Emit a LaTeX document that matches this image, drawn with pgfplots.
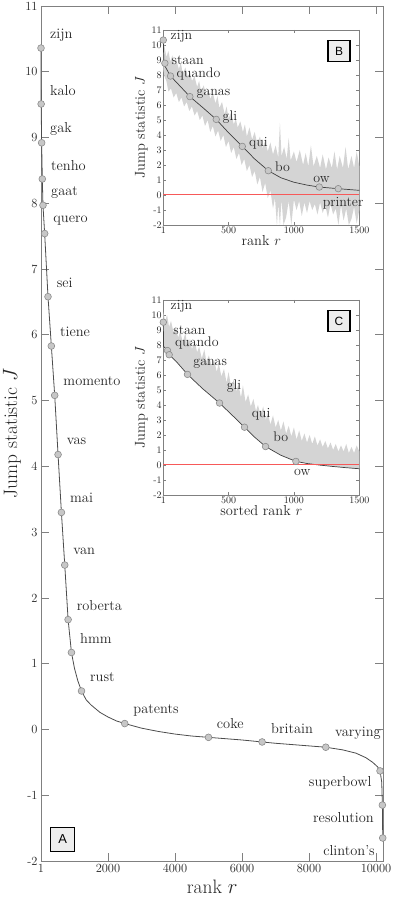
\documentclass[border=0pt]{standalone}
\usepackage{pgfplots}
\pgfplotsset{compat=1.18}
\usepackage{fontspec}
\newfontfamily\boxfont{Liberation Sans}
\definecolor{frame}{gray}{0.5}
\definecolor{band}{gray}{0.83}
\definecolor{mk}{gray}{0.78}
\definecolor{mkedge}{gray}{0.55}
\definecolor{zeroline}{rgb}{0.97,0.35,0.35}
\newcommand{\wl}{\fontsize{14.5}{15}\selectfont}
\newcommand{\wli}{\fontsize{14}{14.5}\selectfont}
\begin{document}
\begin{tikzpicture}
\useasboundingbox (0,0) rectangle (395bp,899bp);
% ---------------- main axis A ----------------
\begin{axis}[
  at={(41bp,38bp)}, anchor=south west,
  width=342.4bp, height=855bp, scale only axis,
  xmin=1, xmax=10220, ymin=-2, ymax=11,
  scaled x ticks=false,
  xtick={1,2000,4000,6000,8000,10000},
  xticklabels={1,2000,4000,6000,8000,10000},
  ytick={-2,-1,0,1,2,3,4,5,6,7,8,9,10,11},
  yticklabels={-2,-1,0,1,2,3,4,5,6,7,8,9,10,11},
  tick align=inside, tick pos=both, major tick length=8bp,
  axis line style={frame, line width=0.9bp},
  tick style={frame, line width=0.8bp},
  ticklabel style={font=\fontsize{12.5}{13}\selectfont, text=black!85},
  xlabel={rank $r$}, ylabel={Jump statistic $J$},
  label style={font=\fontsize{19.5}{20}\selectfont, text=black!85},
  ylabel style={yshift=-2.5bp},
  clip=false,
]
\addplot[black!70, line width=0.8bp] coordinates {
(1,10.36)(5,9.51)(20,8.92)(40,8.37)(60,7.97)(110,7.54)(210,6.58)(310,5.83)
(410,5.08)(510,4.18)(610,3.30)(710,2.50)(810,1.67)(910,1.17)(1000,0.93)
(1100,0.74)(1210,0.585)(1350,0.45)(1500,0.37)(1760,0.26)(2000,0.19)
(2250,0.13)(2500,0.09)(3000,0.02)(3500,-0.03)(4000,-0.07)(4500,-0.10)
(5000,-0.12)(5500,-0.14)(6000,-0.16)(6600,-0.19)(7000,-0.21)(7500,-0.23)
(8000,-0.25)(8500,-0.27)(9000,-0.31)(9400,-0.36)(9700,-0.43)(9900,-0.50)
(10050,-0.57)(10120,-0.63)(10170,-0.80)(10190,-1.15)(10200,-1.65)};
\addplot[only marks, mark=*, mark size=3.4bp, mark options={fill=mk, draw=mkedge, line width=0.6bp}] coordinates {
(1,10.36)(5,9.51)(20,8.92)(40,8.37)(60,7.97)(110,7.54)(210,6.58)(310,5.83)
(410,5.08)(510,4.18)(610,3.30)(710,2.50)(810,1.67)(910,1.17)(1210,0.585)
(2500,0.09)(5000,-0.12)(6600,-0.19)(8500,-0.27)(10120,-0.63)(10190,-1.15)(10200,-1.65)};
\begin{scope}[every node/.style={inner sep=0, font=\wl, text=black!85}]
\node[anchor=west] at (axis cs:269,10.56) {zijn};
\node[anchor=west] at (axis cs:269,9.71) {kalo};
\node[anchor=west] at (axis cs:269,9.13) {gak};
\node[anchor=west] at (axis cs:299,8.57) {tenho};
\node[anchor=west] at (axis cs:299,8.17) {gaat};
\node[anchor=west] at (axis cs:367,7.74) {quero};
\node[anchor=west] at (axis cs:469,6.79) {sei};
\node[anchor=west] at (axis cs:567,6.04) {tiene};
\node[anchor=west] at (axis cs:666,5.29) {momento};
\node[anchor=west] at (axis cs:767,4.38) {vas};
\node[anchor=west] at (axis cs:866,3.52) {mai};
\node[anchor=west] at (axis cs:964,2.71) {van};
\node[anchor=west] at (axis cs:1066,1.88) {roberta};
\node[anchor=west] at (axis cs:1164,1.38) {hmm};
\node[anchor=west] at (axis cs:1463,0.79) {rust};
\node[anchor=west] at (axis cs:2755,0.29) {patents};
\node[anchor=west] at (axis cs:5245,0.09) {coke};
\node[anchor=west] at (axis cs:6866,0.02) {britain};
\node[anchor=west] at (axis cs:8776,-0.06) {varying};
\node[anchor=east] at (axis cs:9871,-0.81) {superbowl};
\node[anchor=east] at (axis cs:9940,-1.34) {resolution};
\node[anchor=east] at (axis cs:9970,-1.84) {clinton's};
\end{scope}
\node[draw=black, line width=1.3bp, fill=black!7, minimum width=24bp, minimum height=24bp, inner sep=0,
  font=\boxfont\fontsize{13}{13}\selectfont, anchor=south west, xshift=9bp, yshift=9bp] at (rel axis cs:0,0) {A};
\end{axis}
% ---------------- inset B ----------------
\begin{axis}[
  at={(163.3bp,674bp)}, anchor=south west,
  width=196bp, height=195bp, scale only axis,
  xmin=1, xmax=1500, ymin=-2, ymax=11,
  xtick={1,500,1000,1500}, xticklabels={1,500,1000,1500},
  ytick={-2,-1,0,1,2,3,4,5,6,7,8,9,10,11},
  yticklabels={-2,-1,0,1,2,3,4,5,6,7,8,9,10,11},
  tick align=inside, tick pos=both, major tick length=3bp,
  axis line style={frame, line width=0.8bp},
  tick style={frame, line width=0.6bp},
  ticklabel style={font=\fontsize{10}{10}\selectfont, text=black!85, inner sep=1.5bp},
  xlabel={rank $r$}, ylabel={Jump statistic $J$},
  label style={font=\fontsize{14.5}{15}\selectfont, text=black!85},
  xlabel style={yshift=3bp}, ylabel style={yshift=-1bp},
  axis background/.style={fill=white},
  clip=false,
]
\addplot[fill=band, draw=none] coordinates {
(1,10.3)(10,9.9)(25,9.2)(40,9.6)(55,8.9)(70,9.3)(85,8.7)(100,9.0)(120,8.4)(135,8.8)
(150,8.1)(170,8.5)(190,7.8)(205,8.2)(220,7.6)(240,7.9)(260,7.2)(275,7.6)(290,6.9)
(310,7.3)(330,6.6)(345,7.0)(360,6.4)(380,6.8)(400,6.1)(415,6.6)(430,5.8)(450,6.2)
(470,5.4)(485,5.9)(500,5.1)(520,5.5)(540,4.7)(555,5.1)(570,4.5)(590,4.9)(610,4.2)
(625,4.7)(640,3.9)(660,4.5)(680,3.7)(700,4.2)(720,3.4)(740,3.9)(760,3.1)(780,3.6)
(800,2.9)(820,3.5)(840,2.7)(860,3.3)(880,2.5)(893,4.8)(905,2.6)(925,3.2)(945,2.4)
(960,3.8)(975,2.3)(1000,2.9)(1020,2.2)(1045,3.0)(1070,2.0)(1090,2.8)(1110,1.9)
(1130,3.3)(1150,1.9)(1175,2.6)(1200,1.8)(1220,2.7)(1245,1.7)(1265,2.5)(1290,1.8)
(1310,2.9)(1330,1.7)(1350,2.6)(1375,1.8)(1395,3.2)(1415,1.7)(1440,2.6)(1460,1.8)
(1480,2.9)(1500,1.9)
(1500,-1.0)(1480,-1.9)(1460,-0.8)(1440,-1.6)(1420,-2.0)(1400,-0.9)(1380,-1.7)
(1360,-0.7)(1340,-2.0)(1320,-0.9)(1300,-1.3)(1280,-0.6)(1260,-1.5)(1240,-0.7)
(1220,-1.2)(1200,-0.5)(1180,-1.3)(1160,-0.6)(1140,-1.0)(1120,-0.4)(1100,-1.2)
(1080,-0.5)(1060,-1.4)(1040,-0.4)(1020,-1.0)(1000,-0.3)(980,-2.0)(960,-0.4)
(940,-1.5)(920,-2.0)(905,-0.3)(893,-2.0)(880,-0.6)(870,-2.0)(855,-0.2)(840,-0.9)
(820,0.3)(800,-0.2)(780,0.8)(760,0.2)(740,1.2)(720,0.7)(700,1.6)(680,1.2)(660,2.0)
(640,1.6)(620,2.4)(600,2.0)(580,2.8)(560,2.4)(540,3.2)(520,2.8)(500,3.6)(480,3.2)
(460,4.0)(440,3.6)(420,4.3)(400,3.9)(380,4.6)(360,4.2)(340,5.0)(320,4.6)(300,5.3)
(280,5.0)(260,5.6)(240,5.3)(220,5.9)(200,5.6)(180,6.2)(160,5.9)(140,6.5)(120,6.2)
(100,6.8)(80,6.5)(60,7.1)(40,6.9)(25,7.6)(10,7.9)(1,8.4)} -- cycle;
\addplot[black!75, line width=0.7bp] coordinates {
(1,10.33)(5,8.9)(13,8.6)(56,7.93)(130,7.25)(204,6.56)(300,5.85)(406,5.04)
(500,4.15)(605,3.24)(700,2.4)(804,1.62)(900,1.15)(1000,0.85)(1100,0.66)
(1194,0.53)(1339,0.42)(1500,0.31)};
\addplot[color=zeroline, line width=1bp] coordinates {(1,0)(1500,0)};
\addplot[only marks, mark=*, mark size=3.3bp, mark options={fill=mk, draw=mkedge, line width=0.6bp}] coordinates {
(1,10.33)(13,8.78)(56,7.93)(204,6.56)(406,5.04)(605,3.24)(804,1.62)(1194,0.53)(1339,0.42)};
\begin{scope}[every node/.style={inner sep=0, font=\wli, text=black!85, anchor=west}]
\node at (axis cs:56,10.56) {zijn};
\node at (axis cs:64,9.0) {staan};
\node at (axis cs:102,8.09) {quando};
\node at (axis cs:255,6.73) {ganas};
\node at (axis cs:454,5.22) {gli};
\node at (axis cs:656,3.44) {qui};
\node at (axis cs:855,1.89) {bo};
\node at (axis cs:1148,1.04) {ow};
\node at (axis cs:1219,-0.56) {printer};
\end{scope}
\node[draw=black, line width=1.3bp, fill=black!7, minimum width=22bp, minimum height=21bp, inner sep=0,
  font=\boxfont\fontsize{12}{12}\selectfont, anchor=north east, xshift=-8.6bp, yshift=-10bp] at (rel axis cs:1,1) {B};
\end{axis}
% ---------------- inset C ----------------
\begin{axis}[
  at={(163.3bp,404bp)}, anchor=south west,
  width=196bp, height=195bp, scale only axis,
  xmin=1, xmax=1500, ymin=-2, ymax=11,
  xtick={1,500,1000,1500}, xticklabels={1,500,1000,1500},
  ytick={-2,-1,0,1,2,3,4,5,6,7,8,9,10,11},
  yticklabels={-2,-1,0,1,2,3,4,5,6,7,8,9,10,11},
  tick align=inside, tick pos=both, major tick length=3bp,
  axis line style={frame, line width=0.8bp},
  tick style={frame, line width=0.6bp},
  ticklabel style={font=\fontsize{10}{10}\selectfont, text=black!85, inner sep=1.5bp},
  xlabel={sorted rank $r$}, ylabel={Jump statistic $J$},
  label style={font=\fontsize{14.5}{15}\selectfont, text=black!85},
  xlabel style={yshift=3bp}, ylabel style={yshift=-1bp},
  axis background/.style={fill=white},
  clip=false,
]
\addplot[fill=band, draw=none] coordinates {
(1,10.2)(15,9.6)(30,10.0)(45,9.2)(60,9.6)(80,8.8)(95,9.2)(115,8.5)(130,8.9)(150,8.2)
(170,8.8)(185,7.9)(205,8.4)(220,7.7)(240,8.3)(260,7.5)(275,7.9)(295,7.1)(315,7.7)
(330,6.9)(350,7.3)(370,6.6)(390,7.0)(410,6.2)(425,6.8)(445,5.9)(465,6.4)(485,5.5)
(500,6.2)(520,5.2)(540,5.7)(560,4.9)(575,5.4)(595,4.5)(610,5.3)(630,4.2)(650,4.7)
(670,3.9)(690,4.4)(710,3.6)(725,4.0)(745,3.3)(765,3.9)(785,3.0)(800,3.5)(820,2.7)
(840,3.3)(860,2.5)(880,3.0)(900,2.3)(920,2.9)(940,2.1)(960,2.6)(980,1.9)(1000,2.5)
(1020,1.7)(1040,2.3)(1060,1.6)(1080,2.1)(1100,1.5)(1120,2.0)(1140,1.4)(1160,1.9)
(1180,1.3)(1200,1.7)(1220,1.2)(1240,1.6)(1260,1.1)(1280,1.5)(1300,1.0)(1320,1.4)
(1340,0.9)(1360,1.3)(1380,0.9)(1400,1.4)(1420,0.8)(1440,1.2)(1460,0.8)(1480,1.3)
(1500,0.9)
(1500,-0.25)(1400,-0.18)(1300,-0.1)(1190,0.0)(1100,0.1)(1015,0.24)(900,0.65)
(783,1.23)(700,1.85)(622,2.52)(530,3.3)(431,4.13)(300,5.1)(186,6.04)(100,6.9)
(46,7.35)(33,7.63)(3,7.9)(1,8.3)} -- cycle;
\addplot[black!75, line width=0.7bp] coordinates {
(1,9.52)(3,7.9)(33,7.63)(46,7.35)(100,6.9)(186,6.04)(300,5.1)(431,4.13)
(530,3.3)(622,2.52)(700,1.85)(783,1.23)(900,0.65)(1015,0.24)(1100,0.1)
(1190,0.0)(1300,-0.1)(1400,-0.18)(1500,-0.25)};
\addplot[color=zeroline, line width=1bp] coordinates {(1,0)(1500,0)};
\addplot[only marks, mark=*, mark size=3.3bp, mark options={fill=mk, draw=mkedge, line width=0.6bp}] coordinates {
(1,9.52)(33,7.63)(46,7.35)(186,6.04)(431,4.13)(622,2.52)(783,1.23)(1015,0.24)};
\begin{scope}[every node/.style={inner sep=0, font=\wli, text=black!85, anchor=west}]
\node at (axis cs:56,10.56) {zijn};
\node at (axis cs:77,8.98) {staan};
\node at (axis cs:89,8.10) {quando};
\node at (axis cs:230,6.73) {ganas};
\node at (axis cs:485,5.24) {gli};
\node at (axis cs:676,3.40) {qui};
\node at (axis cs:842,1.87) {bo};
\node at (axis cs:1000,-0.47) {ow};
\end{scope}
\node[draw=black, line width=1.3bp, fill=black!7, minimum width=22bp, minimum height=21bp, inner sep=0,
  font=\boxfont\fontsize{12}{12}\selectfont, anchor=north east, xshift=-8.6bp, yshift=-10bp] at (rel axis cs:1,1) {C};
\end{axis}
\end{tikzpicture}
\end{document}
